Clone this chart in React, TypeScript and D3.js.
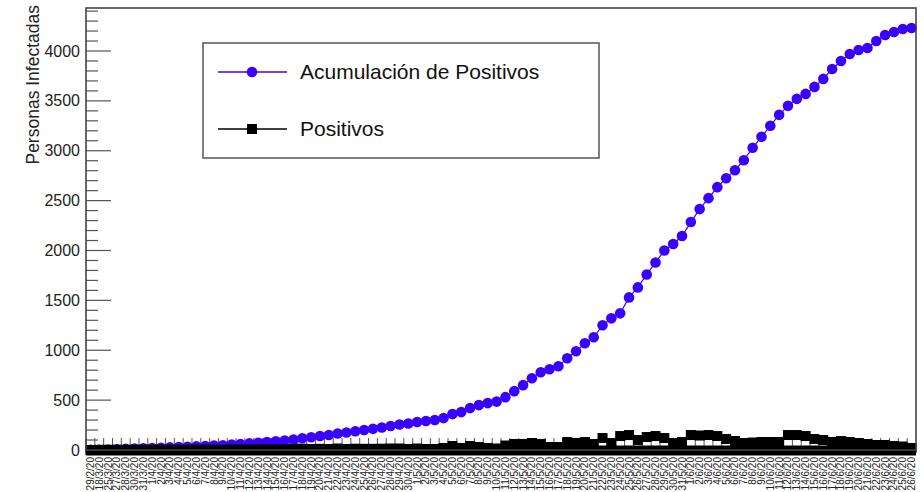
import React from 'react';
import * as d3 from 'd3';

// fechas (eje x): unos días sueltos de marzo y luego diario del 1/4 al 26/6
const early = ["29/2/20", "18/3/20", "25/3/20", "27/3/20", "28/3/20", "30/3/20", "31/3/20"];
const april = Array.from({ length: 30 }, (_, i) => `${i + 1}/4/20`);
const may = Array.from({ length: 31 }, (_, i) => `${i + 1}/5/20`);
const june = Array.from({ length: 26 }, (_, i) => `${i + 1}/6/20`);
const dates = [...early, ...april, ...may, ...june];

const acumulados = [
  1, 3, 5, 8, 11, 14, 17, 20, 23, 26, 29, 32, 36, 40, 44, 48, 54, 60, 66, 72,
  80, 88, 95, 105, 118, 128, 140, 150, 165, 175, 188, 200, 212, 225, 240, 255, 265, 280, 290, 300,
  320, 360, 380, 420, 450, 470, 485, 530, 590, 650, 720, 780, 810, 840, 920, 990, 1070, 1130, 1250, 1320,
  1370, 1530, 1630, 1760, 1880, 2000, 2065, 2145, 2285, 2415, 2525, 2635, 2725, 2805, 2905, 3030, 3140, 3250, 3360, 3450,
  3520, 3570, 3640, 3720, 3820, 3900, 3970, 4010, 4030, 4100, 4160, 4190, 4220, 4231,
];

const positivos = [
  0, 2, 2, 3, 3, 3, 3, 3, 3, 3, 3, 3, 4, 4, 4, 4, 6, 6, 6, 6,
  8, 8, 7, 10, 13, 10, 12, 10, 15, 10, 13, 12, 12, 13, 15, 15, 10, 15, 10, 10,
  20, 40, 20, 40, 30, 20, 15, 45, 60, 60, 70, 60, 30, 30, 80, 70, 80, 60, 120, 70,
  140, 150, 100, 130, 140, 120, 70, 80, 150, 145, 150, 140, 110, 90, 70, 75, 80, 80, 80, 150,
  150, 140, 110, 100, 80, 90, 80, 70, 60, 50, 50, 40, 35, 20,
];

const yMajor = d3.range(0, 4001, 500);
const yMinor = d3.range(0, 4401, 100).filter(v => v % 500 !== 0);

const W = 924, H = 492;
const left = 86, right = 916, top = 8, bottom = 450;
const font = 'Liberation Sans, Arial, Helvetica, sans-serif';
const blue = '#3a00ff';

const App: React.FC = () => {
  const x = d3.scaleBand<string>().domain(dates).range([left, right]).padding(0);
  const y = d3.scaleLinear().domain([0, 4431]).range([bottom, top]);
  const cx = (d: string) => (x(d) ?? 0) + x.bandwidth() / 2;

  const blueLine = d3.line<number>().x((_, i) => cx(dates[i])).y(d => y(d));
  const blackLine = d3.line<number>().x((_, i) => cx(dates[i])).y(d => y(d));

  return (
    <svg width={W} height={H} style={{ position: 'absolute', left: 0, top: 0, background: '#fff' }}>
      {/* ticks eje x en los bordes de cada bin */}
      {dates.map(d => (
        <line key={'xt' + d} x1={x(d)} x2={x(d)} y1={bottom} y2={bottom - 12} stroke="#555" strokeWidth={1} />
      ))}
      {/* ticks eje y */}
      {yMajor.map(v => (
        <line key={'ym' + v} x1={left} x2={left + 25} y1={y(v)} y2={y(v)} stroke="#555" strokeWidth={1.2} />
      ))}
      {yMinor.map(v => (
        <line key={'yn' + v} x1={left} x2={left + 12} y1={y(v)} y2={y(v)} stroke="#555" strokeWidth={1.2} />
      ))}

      {/* acumulación */}
      <path d={blueLine(acumulados) ?? ''} fill="none" stroke={blue} strokeWidth={1.2} />
      {acumulados.map((v, i) => (
        <circle key={'c' + i} cx={cx(dates[i])} cy={y(v)} r={5.3} fill={blue} />
      ))}

      {/* positivos */}
      <path d={blackLine(positivos) ?? ''} fill="none" stroke="#000" strokeWidth={1.5} />
      {positivos.map((v, i) => (
        <rect key={'s' + i} x={cx(dates[i]) - 5} y={y(v) - 5} width={10} height={10} fill="#000" />
      ))}
      <line x1={left} x2={right} y1={y(0) + 0.5} y2={y(0) + 0.5} stroke="#000" strokeWidth={10} />

      {/* marco */}
      <rect x={left} y={top} width={right - left} height={bottom - top} fill="none" stroke="#444" strokeWidth={1.6} />

      {/* etiquetas eje y */}
      {yMajor.map(v => (
        <text key={'yl' + v} x={left - 6} y={y(v)} dy="0.35em" textAnchor="end" fontFamily={font} fontSize={16} fill="#222">
          {v}
        </text>
      ))}
      <text transform={`translate(33,${top - 3}) rotate(-90)`} textAnchor="end" dy="0.35em" fontFamily={font} fontSize={17.5} fill="#222">
        Personas Infectadas
      </text>

      {/* etiquetas eje x */}
      {dates.map(d => (
        <text key={'xl' + d} transform={`translate(${cx(d)},${bottom + 7}) rotate(-90)`} textAnchor="end" dy="0.35em"
          fontFamily={font} fontSize={10} fill="#222">
          {d}
        </text>
      ))}

      {/* leyenda */}
      <rect x={203} y={43} width={396} height={115} fill="#fff" stroke="#555" strokeWidth={1.5} />
      <line x1={218} x2={287} y1={72} y2={72} stroke={blue} strokeWidth={1.5} />
      <circle cx={252} cy={72} r={5.3} fill={blue} />
      <text x={300} y={72} dy="0.35em" fontFamily={font} fontSize={21} fill="#111">Acumulación de Positivos</text>
      <line x1={218} x2={287} y1={129} y2={129} stroke="#000" strokeWidth={1.5} />
      <rect x={247} y={124} width={10} height={10} fill="#000" />
      <text x={300} y={129} dy="0.35em" fontFamily={font} fontSize={21} fill="#111">Positivos</text>
    </svg>
  );
};

export default App;
